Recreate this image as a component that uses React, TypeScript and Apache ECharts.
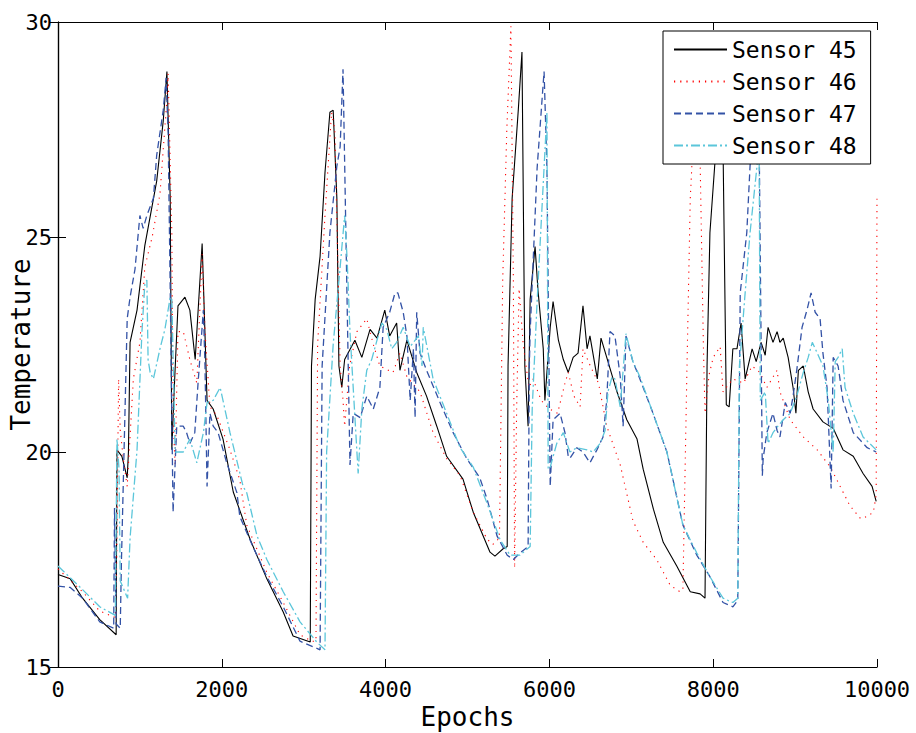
import React, { useEffect, useRef } from "react";
import * as echarts from "echarts";

const sensorNames = ["Sensor 45", "Sensor 46", "Sensor 47", "Sensor 48"];
const xMin = 0;
const xMax = 10000;
const xStep = 2000;
const yMin = 15;
const yMax = 30;
const yStep = 5;
const xTitle = "Epochs";
const yTitle = "Temperature";

const sensor45: [number, number][] = [
  [0, 17.15], [150, 17.05], [300, 16.6], [510, 16.1], [710, 15.75], [720, 20.05], [780, 19.9], [845, 19.4],
  [860, 20.0], [880, 22.55], [965, 23.3], [1060, 24.8], [1205, 26.3], [1285, 27.7], [1330, 28.85], [1370, 25.9],
  [1390, 20.05], [1420, 21.5], [1465, 23.4], [1550, 23.6], [1610, 23.3], [1675, 22.15], [1760, 24.85], [1820, 21.2],
  [1895, 21.0], [2015, 20.3], [2140, 19.07], [2345, 17.97], [2550, 17.05], [2750, 16.28], [2870, 15.72], [3080, 15.58],
  [3095, 22.0], [3140, 23.55], [3200, 24.55], [3260, 26.5], [3320, 27.9], [3360, 27.95], [3405, 25.9], [3430, 22.0],
  [3465, 21.5], [3500, 22.15], [3625, 22.6], [3710, 22.2], [3810, 22.85], [3895, 22.65], [3990, 23.3], [4050, 22.7],
  [4135, 23.0], [4175, 21.9], [4260, 22.6], [4380, 21.85], [4500, 21.3], [4625, 20.6], [4745, 19.9], [4945, 19.37],
  [5070, 18.6], [5275, 17.67], [5335, 17.58], [5435, 17.75], [5485, 17.8], [5495, 22.0], [5545, 25.9], [5620, 27.95],
  [5665, 29.3], [5700, 22.0], [5740, 20.6], [5765, 23.55], [5825, 24.78], [5860, 23.78], [5925, 22.4], [5945, 21.2],
  [6010, 22.9], [6045, 23.5], [6110, 22.6], [6170, 22.15], [6230, 21.85], [6290, 22.2], [6350, 22.3], [6410, 23.4],
  [6460, 22.4], [6495, 22.7], [6585, 21.7], [6630, 22.65], [6700, 22.2], [6825, 21.4], [6945, 20.75], [7070, 20.3],
  [7145, 19.6], [7270, 18.67], [7390, 17.9], [7555, 17.35], [7720, 16.75], [7840, 16.7], [7900, 16.6], [7925, 22.0],
  [7960, 25.1], [8020, 26.7], [8110, 28.6], [8160, 21.1], [8195, 21.05], [8240, 22.4], [8290, 22.4], [8340, 23.0],
  [8390, 21.7], [8475, 22.4], [8525, 22.1], [8585, 22.55], [8635, 22.25], [8670, 22.9], [8730, 22.55], [8780, 22.8],
  [8815, 22.55], [8855, 22.65], [8915, 22.2], [8975, 21.5], [9010, 20.9], [9040, 21.9], [9100, 22.0], [9160, 21.4],
  [9220, 21.0], [9340, 20.7], [9465, 20.55], [9585, 20.05], [9710, 19.9], [9830, 19.5], [9940, 19.2], [9990, 18.85],
];

const sensor46: [number, number][] = [
  [0, 17.28], [300, 16.75], [510, 16.3], [700, 16.15], [715, 17.3], [740, 21.7], [760, 20.5], [800, 19.8],
  [845, 19.2], [920, 21.7], [1000, 22.55], [1060, 24.3], [1150, 25.0], [1245, 26.0], [1330, 28.2], [1345, 28.8],
  [1390, 25.1], [1405, 20.8], [1430, 19.7], [1465, 22.8], [1530, 22.8], [1610, 22.15], [1695, 21.6], [1760, 24.6],
  [1795, 22.8], [1855, 21.05], [1940, 20.85], [2100, 20.05], [2220, 19.35], [2305, 18.3], [2550, 17.2], [2750, 16.5],
  [2955, 15.75], [3100, 15.6], [3150, 15.6], [3170, 22.5], [3260, 25.5], [3340, 27.9], [3380, 27.5], [3410, 25.0],
  [3445, 22.0], [3480, 21.2], [3500, 20.6], [3560, 22.0], [3650, 22.8], [3770, 23.1], [3850, 22.5], [3930, 22.0],
  [4090, 21.85], [4175, 22.3], [4260, 21.75], [4420, 21.4], [4580, 20.45], [4745, 19.85], [4910, 19.45], [5070, 18.6],
  [5240, 17.97], [5310, 17.85], [5390, 18.0], [5430, 24.0], [5480, 27.5], [5530, 29.9], [5560, 24.0], [5575, 17.3],
  [5600, 21.0], [5630, 23.8], [5680, 22.5], [5750, 21.5], [5800, 21.7], [5900, 21.2], [6000, 21.0], [6100, 20.9],
  [6190, 21.6], [6230, 21.85], [6300, 21.3], [6375, 21.05], [6410, 22.4], [6500, 22.0], [6600, 21.6], [6700, 20.6],
  [6865, 19.7], [7020, 18.4], [7145, 17.9], [7310, 17.5], [7475, 16.9], [7595, 16.75], [7630, 16.8], [7680, 22.0],
  [7720, 25.9], [7780, 28.2], [7840, 26.8], [7880, 22.5], [7900, 20.9], [7950, 21.8], [8000, 22.2], [8085, 22.45],
  [8120, 21.4], [8240, 21.7], [8370, 21.6], [8475, 22.0], [8570, 21.85], [8655, 21.5], [8780, 21.9], [8815, 21.4],
  [8940, 20.75], [9100, 20.35], [9270, 20.05], [9430, 19.65], [9550, 19.2], [9670, 18.75], [9800, 18.45], [9880, 18.5],
  [9955, 18.6], [9990, 19.0], [10000, 26.0],
];

const sensor47: [number, number][] = [
  [0, 16.88], [150, 16.85], [300, 16.6], [510, 16.05], [680, 15.9], [690, 18.7], [710, 16.0], [760, 15.9],
  [775, 17.5], [790, 18.7], [845, 23.1], [880, 23.6], [940, 24.25], [1000, 25.5], [1040, 25.2], [1085, 25.5],
  [1165, 25.9], [1205, 26.9], [1285, 27.95], [1320, 28.7], [1345, 27.4], [1370, 23.8], [1405, 18.6], [1450, 20.6],
  [1530, 20.6], [1570, 20.45], [1610, 20.2], [1670, 20.45], [1710, 21.6], [1775, 23.3], [1795, 22.0], [1820, 19.2],
  [1855, 20.9], [1895, 20.6], [1955, 20.45], [2060, 19.75], [2185, 19.05], [2220, 18.5], [2380, 17.8], [2550, 17.1],
  [2750, 16.4], [2955, 15.6], [3200, 15.4], [3225, 22.0], [3320, 25.1], [3405, 26.65], [3445, 27.1], [3480, 28.9],
  [3515, 25.1], [3565, 19.7], [3605, 20.9], [3690, 20.8], [3770, 21.3], [3850, 21.0], [3930, 21.5], [3970, 22.9],
  [4050, 23.25], [4115, 23.7], [4150, 23.7], [4215, 23.25], [4260, 22.7], [4300, 21.2], [4340, 22.4], [4360, 20.8],
  [4380, 23.25], [4420, 22.3], [4500, 21.9], [4665, 21.15], [4825, 20.45], [4990, 19.85], [5150, 19.4], [5240, 18.9],
  [5360, 18.05], [5485, 17.6], [5560, 17.5], [5640, 17.65], [5740, 17.8], [5755, 22.0], [5765, 22.8], [5850, 26.6],
  [5935, 28.85], [5970, 26.6], [6010, 19.2], [6045, 20.75], [6130, 20.9], [6190, 20.45], [6230, 19.9], [6250, 19.85],
  [6335, 20.1], [6410, 20.0], [6495, 19.75], [6580, 20.05], [6655, 20.35], [6700, 21.2], [6740, 22.8], [6800, 22.7],
  [6865, 21.75], [6900, 20.6], [6935, 22.7], [7020, 22.1], [7105, 21.7], [7265, 20.9], [7435, 20.0], [7630, 18.3],
  [7800, 17.6], [7960, 17.1], [8120, 16.5], [8240, 16.4], [8300, 16.55], [8330, 23.7], [8410, 25.1], [8450, 26.65],
  [8520, 28.5], [8560, 27.5], [8600, 19.45], [8610, 19.85], [8655, 20.45], [8730, 20.9], [8780, 20.5], [8815, 20.35],
  [8880, 21.15], [8940, 20.9], [8975, 21.3], [9020, 21.9], [9085, 22.9], [9145, 23.3], [9195, 23.7], [9245, 23.25],
  [9305, 23.1], [9340, 22.3], [9390, 21.5], [9440, 19.15], [9465, 22.2], [9525, 22.0], [9585, 21.2], [9710, 20.45],
  [9880, 20.1], [9990, 20.0],
];

const sensor48: [number, number][] = [
  [0, 17.35], [300, 16.8], [510, 16.4], [700, 16.2], [720, 20.3], [745, 19.6], [760, 17.0], [850, 16.6],
  [880, 18.0], [965, 20.05], [1025, 22.8], [1060, 23.9], [1085, 24.0], [1100, 22.15], [1125, 21.85], [1165, 21.7],
  [1245, 22.4], [1305, 22.85], [1370, 23.6], [1390, 23.55], [1430, 20.0], [1530, 20.0], [1610, 20.3], [1695, 19.75],
  [1775, 20.45], [1820, 21.15], [1895, 21.2], [1980, 21.5], [2100, 20.45], [2260, 19.2], [2305, 19.05], [2430, 18.05],
  [2550, 17.5], [2750, 16.75], [2955, 16.05], [3160, 15.58], [3260, 15.4], [3280, 20.0], [3360, 22.5], [3445, 24.3],
  [3500, 25.5], [3530, 24.5], [3565, 22.8], [3665, 19.5], [3710, 21.0], [3770, 21.9], [3830, 22.15], [3895, 22.6],
  [3955, 23.0], [4015, 22.85], [4075, 22.4], [4135, 22.55], [4215, 22.9], [4300, 22.45], [4400, 22.7], [4445, 22.0],
  [4460, 22.9], [4580, 21.7], [4745, 20.9], [4910, 20.1], [5070, 19.65], [5240, 18.8], [5400, 17.95], [5520, 17.6],
  [5640, 17.6], [5765, 17.8], [5790, 21.0], [5850, 23.5], [5970, 27.9], [5985, 19.6], [6010, 19.65], [6090, 20.2],
  [6170, 20.45], [6250, 20.0], [6335, 20.1], [6460, 20.05], [6535, 20.0], [6620, 20.2], [6680, 20.5], [6715, 21.4],
  [6765, 21.75], [6800, 21.7], [6865, 21.05], [6900, 21.9], [6935, 22.75], [7020, 22.1], [7105, 21.75], [7265, 20.9],
  [7435, 20.0], [7630, 18.3], [7800, 17.65], [7960, 17.1], [8120, 16.6], [8240, 16.5], [8300, 16.6], [8320, 22.0],
  [8390, 23.7], [8450, 25.1], [8535, 26.65], [8560, 27.3], [8575, 21.2], [8635, 21.4], [8670, 20.2], [8730, 20.45],
  [8790, 20.6], [8855, 20.75], [8940, 20.9], [9020, 21.3], [9100, 21.85], [9160, 22.2], [9210, 22.55], [9270, 22.3],
  [9340, 22.0], [9405, 21.2], [9465, 20.0], [9490, 22.1], [9525, 22.2], [9575, 22.4], [9610, 21.5], [9710, 20.9],
  [9830, 20.35], [9990, 20.05],
];

const seriesData = [sensor45, sensor46, sensor47, sensor48];
const seriesColors = ["#000000", "#ff0000", "#3352a6", "#5bc6da"];
const seriesDash: any[] = ["solid", [1.2, 5], [7, 4], [9, 3, 2, 3]];
const seriesWidth = [1.1, 1.1, 1.3, 1.3];

const FONT = "'DejaVu Sans Mono', 'Liberation Mono', monospace";

export default function App() {
  const ref = useRef<HTMLDivElement>(null);

  useEffect(() => {
    if (!ref.current) return;
    const chart = echarts.init(ref.current, undefined, { renderer: "svg" });
    const axisLine = { show: true, lineStyle: { color: "#000", width: 1.2 } };
    const axisTick = { show: true, inside: true, length: 8, lineStyle: { color: "#000", width: 1 } };
    const labelStyle = {
      color: "#000",
      fontFamily: FONT,
      fontSize: 22,
      formatter: (v: number) => String(v),
    };
    chart.setOption({
      animation: false,
      backgroundColor: "#fff",
      grid: {
        left: 58,
        right: 39,
        top: 22,
        bottom: 66,
        containLabel: false,
        outerBoundsMode: "none",
      },
      legend: {
        orient: "vertical",
        left: 663,
        top: 31,
        data: sensorNames,
        itemWidth: 53,
        itemHeight: 14,
        itemGap: 9,
        padding: [7, 14, 7, 10],
        backgroundColor: "#fff",
        borderColor: "#000",
        borderWidth: 1,
        borderRadius: 0,
        itemStyle: { opacity: 0 },
        textStyle: { color: "#000", fontFamily: FONT, fontSize: 23, lineHeight: 22 },
      },
      xAxis: [
        {
          type: "value",
          min: xMin,
          max: xMax,
          interval: xStep,
          position: "bottom",
          axisLine,
          axisTick,
          splitLine: { show: false },
          axisLabel: { ...labelStyle, margin: 11 },
          name: xTitle,
          nameLocation: "middle",
          nameGap: 37,
          nameMoveOverlap: false,
          nameTextStyle: { color: "#000", fontFamily: FONT, fontSize: 26 },
        },
        {
          type: "value",
          min: xMin,
          max: xMax,
          interval: xStep,
          position: "top",
          axisLine,
          axisTick,
          splitLine: { show: false },
          axisLabel: { show: false },
        },
      ],
      yAxis: [
        {
          type: "value",
          min: yMin,
          max: yMax,
          interval: yStep,
          position: "left",
          axisLine,
          axisTick,
          splitLine: { show: false },
          axisLabel: { ...labelStyle, margin: 6 },
          name: yTitle,
          nameLocation: "middle",
          nameGap: 24,
          nameRotate: 90,
          nameMoveOverlap: false,
          nameTextStyle: { color: "#000", fontFamily: FONT, fontSize: 26 },
        },
        {
          type: "value",
          min: yMin,
          max: yMax,
          interval: yStep,
          position: "right",
          axisLine,
          axisTick,
          splitLine: { show: false },
          axisLabel: { show: false },
        },
      ],
      series: seriesData.map((d, i) => ({
        type: "line",
        name: sensorNames[i],
        data: d,
        xAxisIndex: 0,
        yAxisIndex: 0,
        symbol: "none",
        showSymbol: false,
        clip: true,
        lineStyle: { color: seriesColors[i], width: seriesWidth[i], type: seriesDash[i] },
        itemStyle: { color: seriesColors[i] },
        emphasis: { disabled: true },
      })),
    });
    return () => chart.dispose();
  }, []);

  return (
    <div
      ref={ref}
      style={{ position: "fixed", left: 0, top: 0, width: 916, height: 733, background: "#fff" }}
    />
  );
}
